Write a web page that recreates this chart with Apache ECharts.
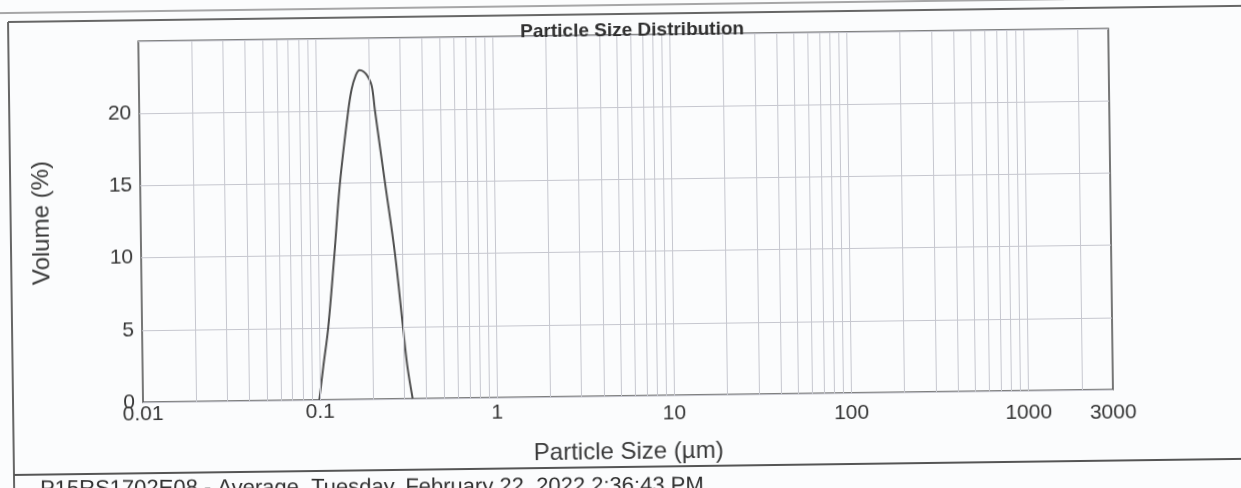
<!DOCTYPE html>
<html><head><meta charset="utf-8">
<script src="https://cdn.jsdelivr.net/npm/echarts@6/dist/echarts.min.js"></script>
<style>
html,body{margin:0;padding:0;width:1241px;height:488px;overflow:hidden;background:#fbfcfd;}
#chart{position:absolute;left:-30px;top:-20px;width:1301px;height:528px;transform:rotate(-0.75deg);transform-origin:50% 50%;}
</style></head><body><div id="chart"></div>
<script>
// Particle size (µm) and volume (%)
const sizeUm    = [0.0990, 0.1048, 0.1125, 0.1233, 0.1343, 0.1514, 0.1589, 0.1674, 0.1765, 0.1859, 0.1951, 0.2063, 0.2142, 0.2411, 0.2716, 0.2972, 0.3124, 0.3333];
const volumePct = [0,      2.3,    5,      10,     15,     20,     21.5,   22.4,   22.8,   22.7,   22.4,   21.7,   20,     15,     10,     5,      2.3,    0];
const xTickLabels = ['0.01', '0.1', '1', '10', '100', '1000', '3000'];
const yTickLabels = ['0', '5', '10', '15', '20'];
const decades = [0.01, 0.1, 1, 10, 100, 1000];
const gridSizes = [];
decades.forEach(d => { for (let k = 1; k <= 9; k++) { const v = +(k * d).toPrecision(6); if (v > 0.01 && v < 3000) gridSizes.push(v); } });

// photo skew: labels sit lower toward the right
const labelDrop = [0, 0, 3, 6, 8, 10, 11];
const xRich = {};
labelDrop.forEach((d, i) => { xRich['o' + i] = {padding: [d, 0, 0, 0], fontFamily: '"Liberation Sans", Arial, sans-serif', fontSize: 21, color: '#363636'}; });

const FONT = '"Liberation Sans", Arial, sans-serif';
const chart = echarts.init(document.getElementById('chart'), null, {renderer: 'canvas'});
chart.setOption({
  backgroundColor: '#fbfcfd',
  animation: false,
  title: {
    text: 'Particle Size Distribution', left: 660, top: 36, textAlign: 'center',
    textStyle: {fontFamily: FONT, fontSize: 19, fontWeight: 'bold', color: '#2e2e2e'}
  },
  grid: {left: 171, right: 160, top: 55, bottom: 112, show: true, borderColor: '#555', borderWidth: 1.6, backgroundColor: 'transparent', outerBoundsMode: 'none'},
  xAxis: {
    type: 'log', logBase: 10, min: 0.01, max: 3000,
    name: 'Particle Size (µm)', nameLocation: 'middle', nameGap: 44,
    nameTextStyle: {fontFamily: FONT, fontSize: 24, color: '#3a3a3a'},
    axisLine: {show: false}, axisTick: {show: false}, splitLine: {show: false}, minorTick: {show: false},
    axisLabel: {
      fontFamily: FONT, fontSize: 21, color: '#363636', margin: 2, showMinLabel: true, showMaxLabel: true,
      rich: xRich,
      formatter: v => { const s = String(+(+v).toPrecision(6)); const i = xTickLabels.indexOf(s); return i >= 0 ? '{o' + i + '|' + s + '}' : ''; }
    }
  },
  yAxis: {
    type: 'value', min: 0, max: 25, interval: 5,
    name: 'Volume (%)', nameLocation: 'middle', nameGap: 87, nameRotate: 90,
    nameTextStyle: {fontFamily: FONT, fontSize: 24, color: '#3a3a3a'},
    axisLine: {show: false}, axisTick: {show: false},
    splitLine: {show: true, lineStyle: {color: '#c6c7cf', width: 1}},
    axisLabel: {
      fontFamily: FONT, fontSize: 21, color: '#363636', margin: 8,
      formatter: v => { const s = String(v); return yTickLabels.includes(s) ? s : ''; }
    }
  },
  graphic: [
    {type: 'line', shape: {x1: 0, y1: 25, x2: 1097, y2: 25}, style: {stroke: '#8a8a8a', lineWidth: 1.5}, z: 0},
    {type: 'line', shape: {x1: 1097, y1: 25, x2: 1301, y2: 25}, style: {stroke: '#c4c4c4', lineWidth: 1}, z: 0},
    {type: 'line', shape: {x1: 41, y1: 34, x2: 1301, y2: 34}, style: {stroke: '#666', lineWidth: 2}, z: 0},
    {type: 'line', shape: {x1: 41, y1: 34, x2: 41, y2: 528}, style: {stroke: '#666', lineWidth: 2}, z: 0},
    {type: 'line', shape: {x1: 41, y1: 487, x2: 1301, y2: 487}, style: {stroke: '#555', lineWidth: 2}, z: 0},
    {type: 'text', x: 67, y: 491, rotation: -0.0073, style: {text: 'P15RS1702E08 - Average, Tuesday, February 22, 2022 2:36:43 PM', fontFamily: FONT, fontSize: 22, fill: '#2e2e2e', textVerticalAlign: 'top'}, z: 0}
  ],
  series: [
    {
      type: 'line', data: [], silent: true, z: 1,
      markLine: {
        silent: true, symbol: 'none', animation: false, label: {show: false},
        lineStyle: {color: '#c6c7cf', width: 1, type: 'solid'},
        emphasis: {disabled: true},
        data: gridSizes.map(v => ({xAxis: v}))
      }
    },
    {
      type: 'line', name: 'Volume', z: 3,
      data: sizeUm.map((s, i) => [s, volumePct[i]]),
      smooth: 0.35, showSymbol: false, symbol: 'none',
      lineStyle: {color: '#505050', width: 2}
    }
  ]
});
</script></body></html>
